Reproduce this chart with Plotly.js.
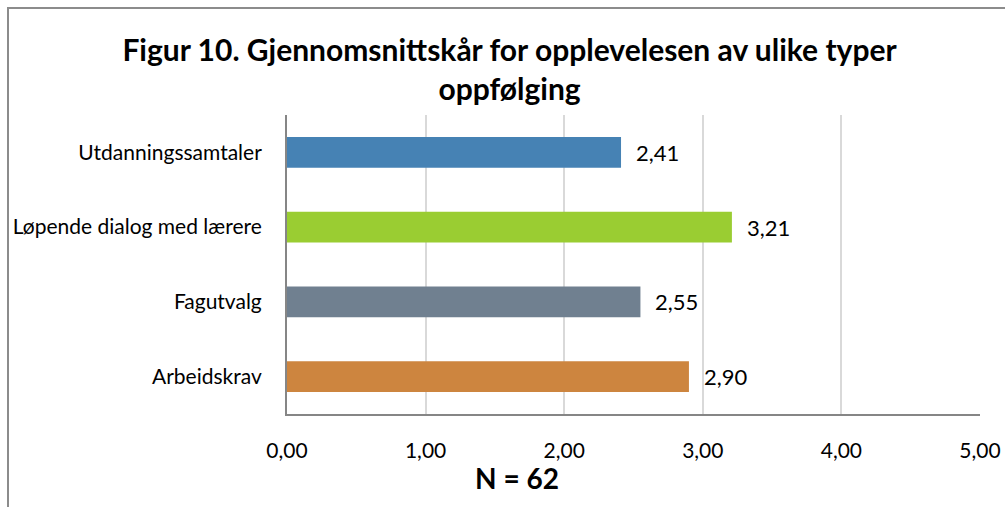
<!DOCTYPE html>
<html><head><meta charset="utf-8">
<script src="https://cdn.plot.ly/plotly-3.0.1.min.js"></script>
<style>
body{margin:0;background:#fff;}
#wrap{position:relative;width:1005px;height:507px;overflow:hidden;}
#plot{width:1005px;height:507px;}
#frame{position:absolute;left:7px;top:7px;width:1100px;height:600px;border-left:2px solid #8c8c8c;border-top:2px solid #8c8c8c;pointer-events:none;}
</style></head>
<body>
<div id="wrap"><div id="plot"></div><div id="frame"></div></div>
<script>
const categories = ["Utdanningssamtaler", "Løpende dialog med lærere", "Fagutvalg", "Arbeidskrav"];
const values = [2.41, 3.21, 2.55, 2.90];
const colors = ["#4682B4", "#9ACD32", "#708090", "#CD853F"];
const xTicks = [0, 1, 2, 3, 4, 5];
const titleText = "Figur 10. Gjennomsnittskår for opplevelesen av ulike typer<br>oppfølging";
const xTitle = "N = 62";

const font = "Lato, 'Open Sans', sans-serif";

const trace = {
  type: "bar", orientation: "h",
  x: values, y: categories,
  marker: {color: colors},
  width: 0.41,
  hoverinfo: "skip"
};

const annotations = values.map((v, i) => ({
  x: v, y: categories[i], xref: "x", yref: "y",
  text: v.toFixed(2).replace(".", ","),
  showarrow: false, xanchor: "left", xshift: 13,
  font: {family: font, size: 22, color: "#000"}
}));
annotations.push({
  text: xTitle, xref: "paper", yref: "paper", x: 0.332, y: -0.214,
  xanchor: "center", yanchor: "middle", showarrow: false,
  font: {family: font, size: 28, color: "#000", weight: "bold"}
});

const layout = {
  width: 1005, height: 507,
  margin: {l: 287, r: 25, t: 115, b: 93},
  paper_bgcolor: "#fff", plot_bgcolor: "#fff",
  separators: ",.",
  showlegend: false,
  title: {text: titleText, x: 0.507, xanchor: "center", yref: "container", y: 1 - 61/507, yanchor: "middle",
          font: {family: font, size: 30, color: "#000", weight: "bold"}},
  xaxis: {
    range: [0, 5], tickvals: xTicks, tickformat: ".2f",
    showgrid: true, gridcolor: "#D9D9D9", gridwidth: 2,
    showline: true, linecolor: "#868686", linewidth: 2,
    zeroline: false, ticks: "", ticklabelstandoff: 17,
    tickfont: {family: font, size: 21, color: "#000"},
    fixedrange: true
  },
  yaxis: {
    autorange: "reversed", type: "category",
    showline: true, linecolor: "#868686", linewidth: 2,
    showgrid: false, zeroline: false, ticks: "", ticklabelstandoff: 19,
    tickfont: {family: font, size: 21, color: "#000"},
    fixedrange: true
  },
  annotations: annotations,
  bargap: 0.59
};

Plotly.newPlot("plot", [trace], layout, {displayModeBar: false, staticPlot: true});
</script>
</body></html>
